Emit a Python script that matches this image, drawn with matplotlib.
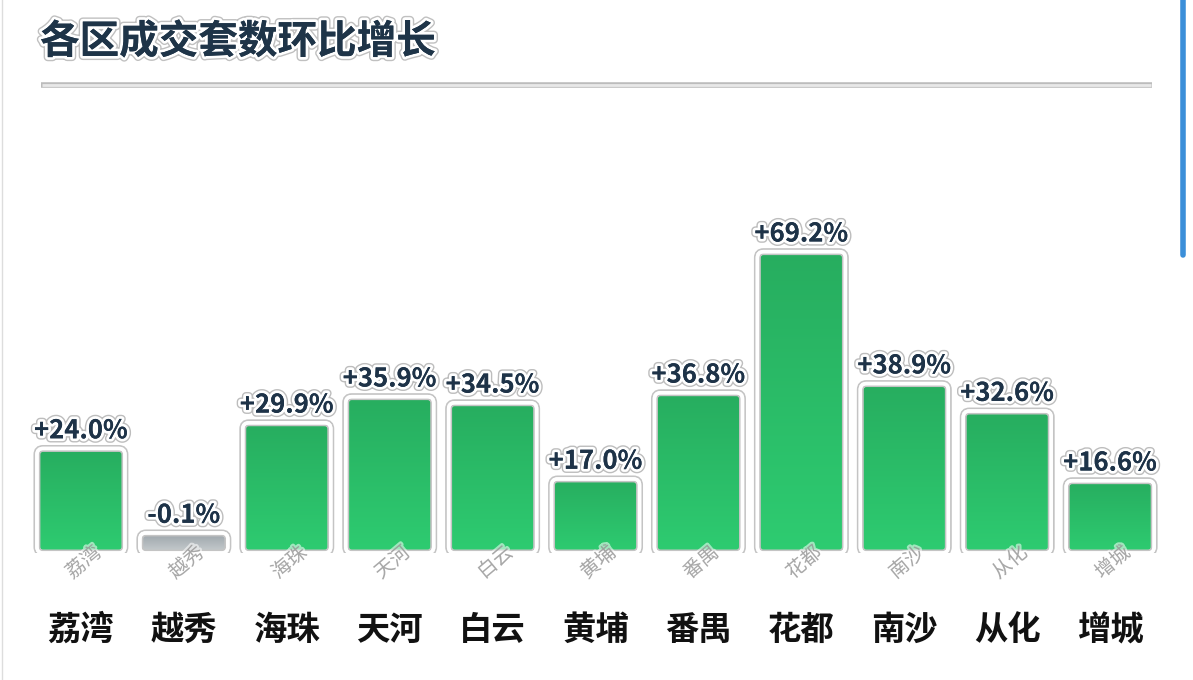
import matplotlib.pyplot as plt
import matplotlib.patheffects as pe
import numpy as np
from matplotlib.colors import LinearSegmentedColormap
from matplotlib.lines import Line2D
from matplotlib.patches import FancyBboxPatch

plt.rcParams['font.family'] = ['Noto Sans CJK SC', 'DejaVu Sans']

title = '各区成交套数环比增长'
districts = ['荔湾', '越秀', '海珠', '天河', '白云', '黄埔', '番禺', '花都', '南沙', '从化', '增城']
growth = [24.0, -0.1, 29.9, 35.9, 34.5, 17.0, 36.8, 69.2, 38.9, 32.6, 16.6]

MIN_H = 4.6  # display height for negative bars
BAR_W = 0.855
YMAX = 104

green = LinearSegmentedColormap.from_list('g', ['#2ecc71', '#27ad5f'])
grey = LinearSegmentedColormap.from_list('k', ['#c9ced1', '#98a1a6'])

fig = plt.figure(figsize=(11.93, 6.80), dpi=100)
ax = fig.add_axes([0.0247, 0.1868, 0.949, 0.666])
ax.set_xlim(-0.5, len(districts) - 0.5)
ax.set_ylim(0, YMAX)
for s in ax.spines.values():
    s.set_visible(False)
ax.set_yticks([])

# data units per pixel ratio, for round corners
bb = ax.get_position()
aspect = (YMAX / (bb.height * 680)) / (len(districts) / (bb.width * 1193))

outline = [pe.withStroke(linewidth=5, foreground='#c4c4c4'), pe.Normal()]
label_fx = [pe.withStroke(linewidth=6, foreground='#bdbdbd'),
            pe.withStroke(linewidth=4, foreground='white'), pe.Normal()]

x = np.arange(len(districts))
heights = [v if v > 0 else MIN_H for v in growth]
bars = ax.bar(x, heights, width=BAR_W, color='none', edgecolor='none')
grad = np.linspace(0, 1, 256).reshape(-1, 1)
for b, v in zip(bars, growth):
    x0, w, h = b.get_x(), b.get_width(), b.get_height()
    box = FancyBboxPatch((x0, 0), w, h, boxstyle='round,pad=0,rounding_size=0.06',
                         mutation_aspect=aspect, facecolor='none',
                         edgecolor='white', linewidth=2.5, zorder=3)
    box.set_path_effects(outline)
    ax.add_patch(box)
    cmap = green if v > 0 else grey
    im = ax.imshow(grad, cmap=cmap, origin='lower', aspect='auto',
                   extent=(x0, x0 + w, 0, h), zorder=2)
    im.set_clip_path(box)
    ax.annotate(f'{v:+.1f}%', (x0 + w / 2, h),
                xytext=(0, 3), textcoords='offset points', ha='center', va='bottom',
                fontsize=18.5, fontweight='bold', color='#1e3348',
                path_effects=label_fx, zorder=5)

# faint rotated names at the bar feet
for i, d in enumerate(districts):
    ax.annotate(d, (i, 0), xytext=(2, -7), textcoords='offset points',
                rotation=40, ha='center', va='center', fontsize=14,
                color='#7d7d7d', alpha=0.55, zorder=4, annotation_clip=False,
                path_effects=[pe.withStroke(linewidth=3, foreground='white')])

ax.set_xticks(x)
ax.set_xticklabels(districts, fontsize=24, fontweight='heavy', color='#111111')
ax.tick_params(axis='x', length=0, pad=44)
ax.set_xlim(-0.5, len(districts) - 0.5)

fig.text(40 / 1193, 1 - 42 / 680, title, fontsize=28.5, fontweight='bold',
         color='#1e3448', va='center', ha='left',
         path_effects=[pe.withStroke(linewidth=6, foreground='#c0c0c0'),
                       pe.withStroke(linewidth=4, foreground='white'), pe.Normal()])

y_line = 1 - 85 / 680
fig.add_artist(Line2D([41 / 1193, 1152 / 1193], [y_line, y_line], lw=4,
                      color='#bcbcbc', solid_capstyle='butt'))
fig.add_artist(Line2D([42 / 1193, 1151 / 1193], [y_line, y_line], lw=2,
                      color='#e8e8e8', solid_capstyle='butt'))
fig.add_artist(Line2D([1183 / 1193, 1183 / 1193], [1.0, 1 - 255 / 680], lw=4,
                      color='#3b8fd9', solid_capstyle='round'))
fig.add_artist(Line2D([2 / 1193, 2 / 1193], [0, 1], lw=1, color='#dddddd'))

fig.savefig('out.png', dpi=100)
